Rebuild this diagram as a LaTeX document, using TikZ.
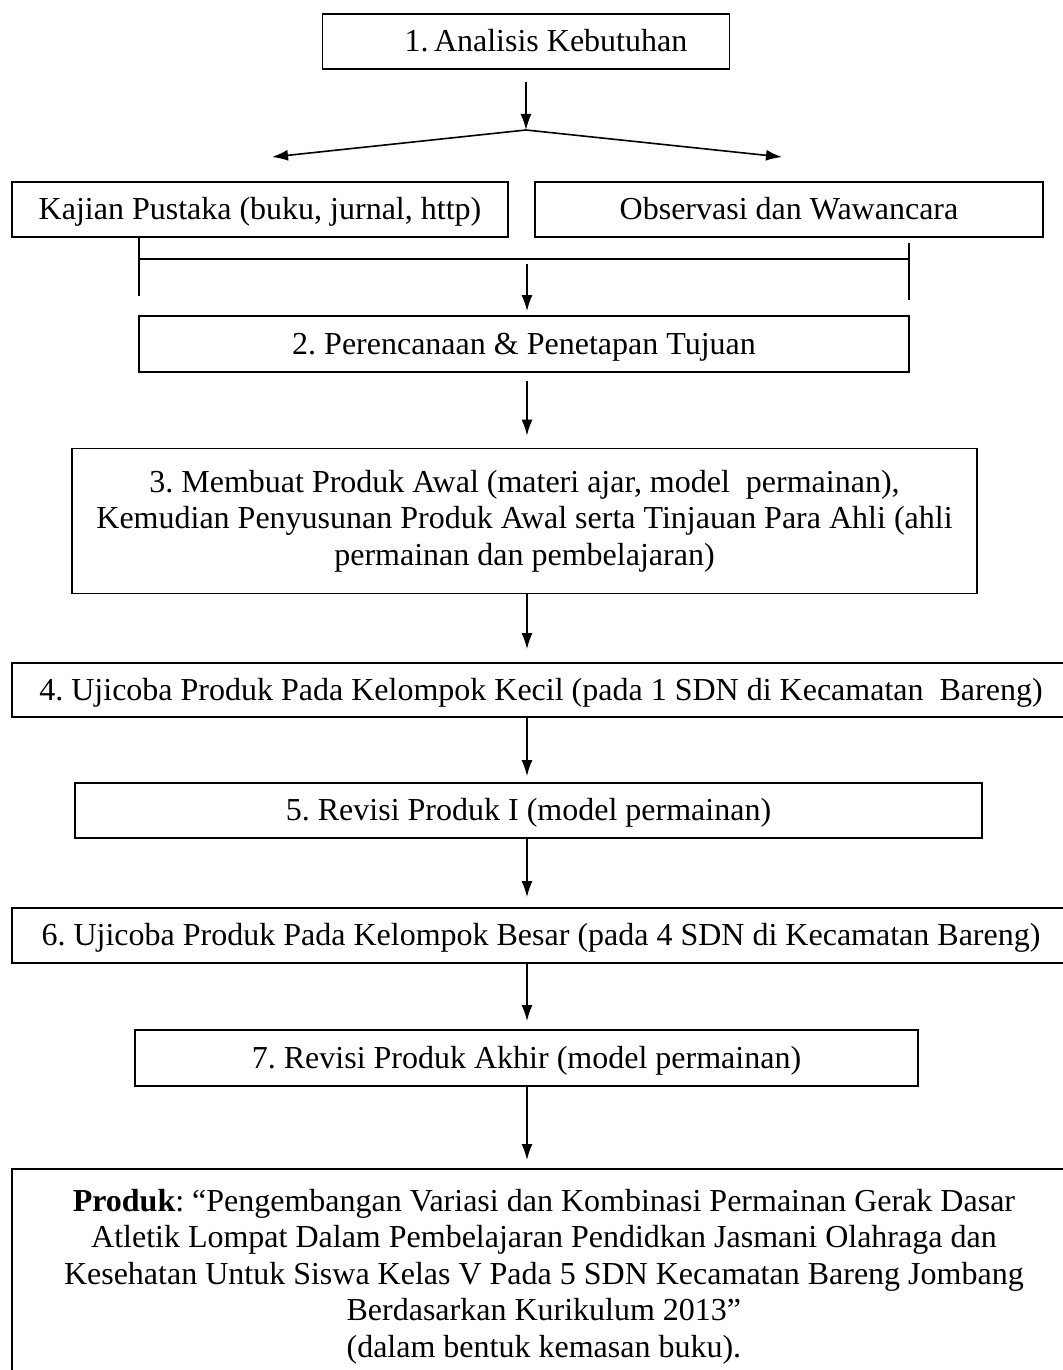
\documentclass[tikz,border=0pt]{standalone}
\usepackage{fontspec}
\setmainfont{Liberation Serif}
\usetikzlibrary{arrows.meta}
\frenchspacing
\tikzset{>={Latex[length=8pt,width=5.5pt]}}
\tikzset{
  tahap/.style={draw,line width=0.9pt,align=center,inner sep=0pt,
    font=\fontsize{16}{18.3}\selectfont},
  baris/.style={tahap,text height=12pt,text depth=2pt},
  panah/.style={->,line width=0.8pt},
  garis/.style={line width=0.8pt},
}
\begin{document}
\begin{tikzpicture}[x=0.5pt,y=-0.5pt]
\useasboundingbox (0,0) rectangle (1062,1370);

\coordinate (poros) at (527,0);

\node [baris,minimum width=203.5pt,minimum height=27.5pt] (analisis) at (526,41.5)
  {\hspace*{20pt}1.\,Analisis Kebutuhan};

\coordinate (cabang) at (526,130);
\coordinate (kiri) at (272,157);
\coordinate (kanan) at (782,157);

\node [baris,minimum width=248pt,minimum height=27.5pt] (kajian) at (260,209.5)
  {Kajian Pustaka (buku, jurnal, http)};
\node [baris,minimum width=254pt,minimum height=27.5pt] (observasi) at (789,209.5)
  {Observasi dan Wawancara};

\node [baris,minimum width=385pt,minimum height=28pt] (rencana) at (524,344)
  {2. Perencanaan \& Penetapan Tujuan};
\node [tahap,minimum width=452.5pt,minimum height=72.5pt] (produkawal) at (524.5,521)
  {3. Membuat Produk Awal (materi ajar, model~ permainan),\\
   Kemudian Penyusunan Produk Awal serta Tinjauan Para Ahli (ahli\\
   permainan dan pembelajaran)};
\node [baris,minimum width=529pt,minimum height=27pt] (ujikecil) at (541,690)
  {4. Ujicoba Produk Pada Kelompok Kecil (pada 1 SDN di Kecamatan~ Bareng)};
\node [baris,minimum width=453.5pt,minimum height=27.5pt] (revisi1) at (528.5,810.5)
  {5. Revisi Produk I (model permainan)};
\node [baris,minimum width=529pt,minimum height=27.5pt] (ujibesar) at (541,935.5)
  {6. Ujicoba Produk Pada Kelompok Besar (pada 4 SDN di Kecamatan Bareng)};
\node [baris,minimum width=391.5pt,minimum height=28pt] (revisiakhir) at (526.5,1058)
  {7. Revisi Produk Akhir (model permainan)};
\node [tahap,anchor=north west,minimum width=532pt,inner ysep=10pt] (produk) at (11,1168)
  {\textbf{Produk}: “Pengembangan Variasi dan Kombinasi Permainan Gerak Dasar\\
   Atletik Lompat Dalam Pembelajaran Pendidkan Jasmani Olahraga dan\\
   Kesehatan Untuk Siswa Kelas V Pada 5 SDN Kecamatan Bareng Jombang\\
   Berdasarkan Kurikulum 2013”\\
   (dalam bentuk kemasan buku).};

% percabangan
\draw [panah,shorten <=6pt] (analisis.south) -- (cabang);
\draw [panah] (cabang) -- (kiri);
\draw [panah] (cabang) -- (kanan);

% penggabungan
\draw [garis] (139,238) -- (139,296);
\draw [garis] (909,243) -- (909,300);
\draw [garis] (139,259) coordinate (gabung) -- (909,259);
\draw [panah,shorten <=2.5pt,shorten >=2pt] (gabung -| poros) -- (poros |- rencana.north);

\draw [panah,shorten <=4pt,shorten >=6pt] (poros |- rencana.south) -- (poros |- produkawal.north);
\draw [panah,shorten >=6.5pt] (poros |- produkawal.south) -- (poros |- ujikecil.north);
\draw [panah,shorten >=3pt] (poros |- ujikecil.south) -- (poros |- revisi1.north);
\draw [panah,shorten >=5pt] (poros |- revisi1.south) -- (poros |- ujibesar.north);
\draw [panah,shorten >=4pt] (poros |- ujibesar.south) -- (poros |- revisiakhir.north);
\draw [panah,shorten >=4pt] (poros |- revisiakhir.south) -- (poros |- produk.north);
\end{tikzpicture}
\end{document}
